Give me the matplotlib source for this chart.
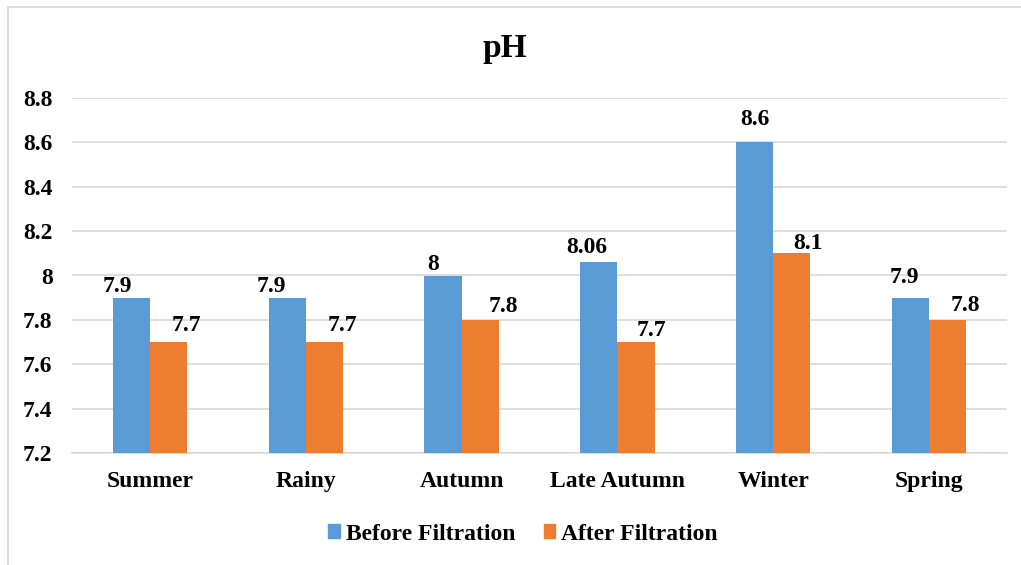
import matplotlib
matplotlib.use("Agg")
import matplotlib.pyplot as plt
import numpy as np
from matplotlib.lines import Line2D
from matplotlib.patches import Patch

categories = ["Summer", "Rainy", "Autumn", "Late Autumn", "Winter", "Spring"]
before = [7.9, 7.9, 8.0, 8.06, 8.6, 7.9]
after = [7.7, 7.7, 7.8, 7.7, 8.1, 7.8]
before_labels = ["7.9", "7.9", "8", "8.06", "8.6", "7.9"]
after_labels = ["7.7", "7.7", "7.8", "7.7", "8.1", "7.8"]
yticks = [7.2, 7.4, 7.6, 7.8, 8.0, 8.2, 8.4, 8.6, 8.8]
ytick_labels = ["7.2", "7.4", "7.6", "7.8", "8", "8.2", "8.4", "8.6", "8.8"]

# label placement tweaks (pixels), layout only
before_off = [(-14, 6), (-16, 6), (-10, 6), (-12, 9), (0, 17), (-6, 15)]
after_off = [(18, 11), (18, 11), (23, 8), (15, 6), (16, 4), (18, 9)]

plt.rcParams['font.family'] = ['Liberation Serif', 'DejaVu Serif']
plt.rcParams['font.weight'] = 'bold'

W, H = 1021, 565
fig = plt.figure(figsize=(W/100, H/100), dpi=100)
ax = fig.add_axes([72/W, 1-453/H, (1007-72)/W, (453-98)/H])

blue = "#5B9BD5"
orange = "#ED7D31"
x = np.arange(len(categories))
bw = 0.238
bottom = 7.2
ax.bar(x - bw/2, np.array(before) - bottom, bw, bottom=bottom, color=blue, zorder=3)
ax.bar(x + bw/2, np.array(after) - bottom, bw, bottom=bottom, color=orange, zorder=3)

for i in range(len(categories)):
    ax.annotate(before_labels[i], (x[i] - bw/2, before[i]), xytext=before_off[i],
                textcoords='offset pixels', ha='center', va='baseline',
                fontsize=17, fontweight='bold', zorder=4)
    ax.annotate(after_labels[i], (x[i] + bw/2, after[i]), xytext=after_off[i],
                textcoords='offset pixels', ha='center', va='baseline',
                fontsize=17, fontweight='bold', zorder=4)

ax.set_xlim(-0.5, len(categories) - 0.5)
ax.set_ylim(7.2, 8.8)
ax.set_yticks(yticks)
ax.set_yticklabels(ytick_labels, fontsize=17, fontweight='bold')
ax.set_xticks(x)
ax.set_xticklabels(categories, fontsize=17, fontweight='bold')
ax.tick_params(axis='both', length=0)
ax.tick_params(axis='y', pad=14)
ax.tick_params(axis='x', pad=13)
ax.grid(axis='y', color='#d9d9d9', linewidth=1.2, zorder=0)
for s in ['top', 'right', 'left']:
    ax.spines[s].set_visible(False)
ax.spines['bottom'].set_color('#d9d9d9')
ax.spines['bottom'].set_linewidth(1.2)

fig.text(505/W, 1-48/H, "pH", ha='center', va='center', fontsize=24, fontweight='bold')

handles = [Patch(color=blue), Patch(color=orange)]
leg = fig.legend(handles, ["Before Filtration", "After Filtration"], loc='center',
                 bbox_to_anchor=(523/W, 1-534/H), ncol=2, frameon=False,
                 prop={'family': 'Liberation Serif', 'weight': 'bold', 'size': 17},
                 handlelength=0.5, handleheight=0.5, handletextpad=0.25, columnspacing=1.2)

# figure border (left and top visible)
fig.add_artist(Line2D([8/W, 8/W], [0, 1-7/H], color='#d9d9d9', linewidth=1.2, transform=fig.transFigure))
fig.add_artist(Line2D([8/W, 1], [1-7/H, 1-7/H], color='#d9d9d9', linewidth=1.2, transform=fig.transFigure))

fig.savefig("out.png", dpi=100)
